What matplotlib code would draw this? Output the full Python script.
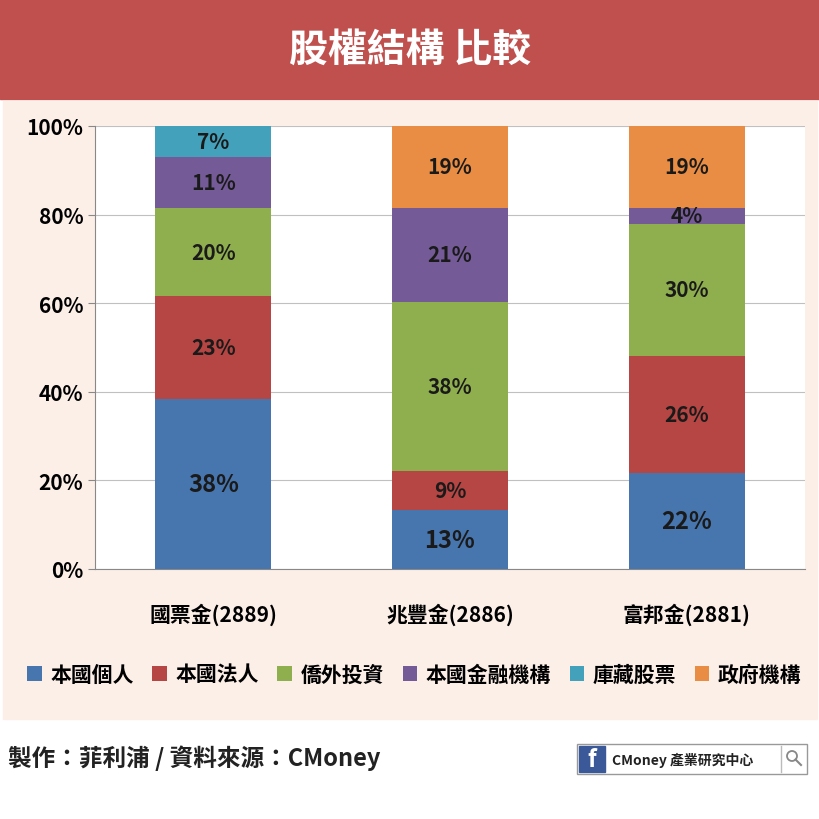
import matplotlib.pyplot as plt
from matplotlib.patches import Rectangle, Circle
from matplotlib.lines import Line2D

plt.rcParams["font.family"] = "Noto Sans CJK TC"

companies = ["國票金(2889)", "兆豐金(2886)", "富邦金(2881)"]
series = ["本國個人", "本國法人", "僑外投資", "本國金融機構", "庫藏股票", "政府機構"]
colors = ["#4775ad", "#b54643", "#8faf4f", "#745a96", "#43a1bb", "#e88d43"]
values = {
    "本國個人": [38.4, 13.3, 21.7],
    "本國法人": [23.2, 8.8, 26.4],
    "僑外投資": [19.9, 38.2, 29.8],
    "本國金融機構": [11.5, 21.2, 3.6],
    "庫藏股票": [7.0, 0, 0],
    "政府機構": [0, 18.5, 18.5],
}
labels = {
    "本國個人": ["38%", "13%", "22%"],
    "本國法人": ["23%", "9%", "26%"],
    "僑外投資": ["20%", "38%", "30%"],
    "本國金融機構": ["11%", "21%", "4%"],
    "庫藏股票": ["7%", "", ""],
    "政府機構": ["", "19%", "19%"],
}
yticks = [0, 20, 40, 60, 80, 100]

fig = plt.figure(figsize=(8.2, 8.2), dpi=100)
fig.patches.append(Rectangle((0, 1 - 100 / 820), 1, 100 / 820,
                             transform=fig.transFigure, color="#c0504d", zorder=-10))
fig.patches.append(Rectangle((0.004, 1 - 720 / 820), 0.992, 618 / 820,
                             transform=fig.transFigure, color="#fcefe8", zorder=-10))
fig.text(0.5, 1 - 50 / 820, "股權結構 比較", ha="center", va="center",
         fontsize=28, fontweight="bold", color="white")

ax = fig.add_axes([95 / 820, 1 - 570 / 820, 710 / 820, 443 / 820])
ax.set_zorder(5)
ax.set_facecolor("white")
x = range(len(companies))
bottom = [0, 0, 0]
for s, c in zip(series, colors):
    v = values[s]
    ax.bar(x, v, 0.49, bottom=bottom, color=c, label=s, zorder=3)
    for i in x:
        if labels[s][i]:
            fs = 17 if s == "本國個人" else 15
            ax.text(i, bottom[i] + v[i] / 2, labels[s][i], ha="center", va="center",
                    fontsize=fs, fontweight="bold", color="#1a1a1a", zorder=4)
    bottom = [b + vv for b, vv in zip(bottom, v)]

ax.set_xlim(-0.5, 2.5)
ax.set_ylim(0, 100)
ax.set_yticks(yticks)
ax.set_yticklabels([f"{t}%" for t in yticks], fontsize=15, fontweight="bold")
ax.set_xticks(list(x))
ax.set_xticklabels(companies, fontsize=15, fontweight="bold")
ax.tick_params(axis="x", length=0, pad=24)
ax.tick_params(axis="y", length=5, color="#888888")
ax.grid(axis="y", color="#c0c0c0", zorder=0)
for sp in ["top", "right"]:
    ax.spines[sp].set_visible(False)
ax.spines["left"].set_color("#888888")
ax.spines["bottom"].set_color("#888888")

fig.legend(loc="center", bbox_to_anchor=(0.505, 1 - 675 / 820), ncol=6, frameon=False,
           prop={"size": 15, "weight": "bold"}, handlelength=0.7, handleheight=0.7,
           columnspacing=0.9, handletextpad=0.4)

fig.text(8 / 820, 1 - 758 / 820, "製作：菲利浦 / 資料來源：CMoney", ha="left", va="center",
         fontsize=17, fontweight="bold", color="#222222")
fig.patches.append(Rectangle((577 / 820, 1 - 775 / 820), 230 / 820, 30 / 820,
                             transform=fig.transFigure, facecolor="white",
                             edgecolor="#999999"))
fig.patches.append(Rectangle((579 / 820, 1 - 773 / 820), 26 / 820, 26 / 820,
                             transform=fig.transFigure, color="#3b5998"))
fig.text(592 / 820, 1 - 760 / 820, "f", ha="center", va="center", fontsize=17,
         fontweight="bold", color="white")
fig.text(612 / 820, 1 - 760 / 820, "CMoney 產業研究中心", ha="left", va="center",
         fontsize=10, fontweight="bold", color="#222222")
# magnifier icon
fig.lines.append(Line2D([781 / 820, 781 / 820], [1 - 773 / 820, 1 - 747 / 820],
                        transform=fig.transFigure, color="#bbbbbb", lw=1))
fig.patches.append(Circle((792 / 820, 1 - 757 / 820), 5 / 820, transform=fig.transFigure,
                          fill=False, edgecolor="#888888", lw=1.3))
fig.lines.append(Line2D([795.5 / 820, 801 / 820], [1 - 760.5 / 820, 1 - 766 / 820],
                        transform=fig.transFigure, color="#888888", lw=1.5))

fig.savefig("out.png", dpi=100)
